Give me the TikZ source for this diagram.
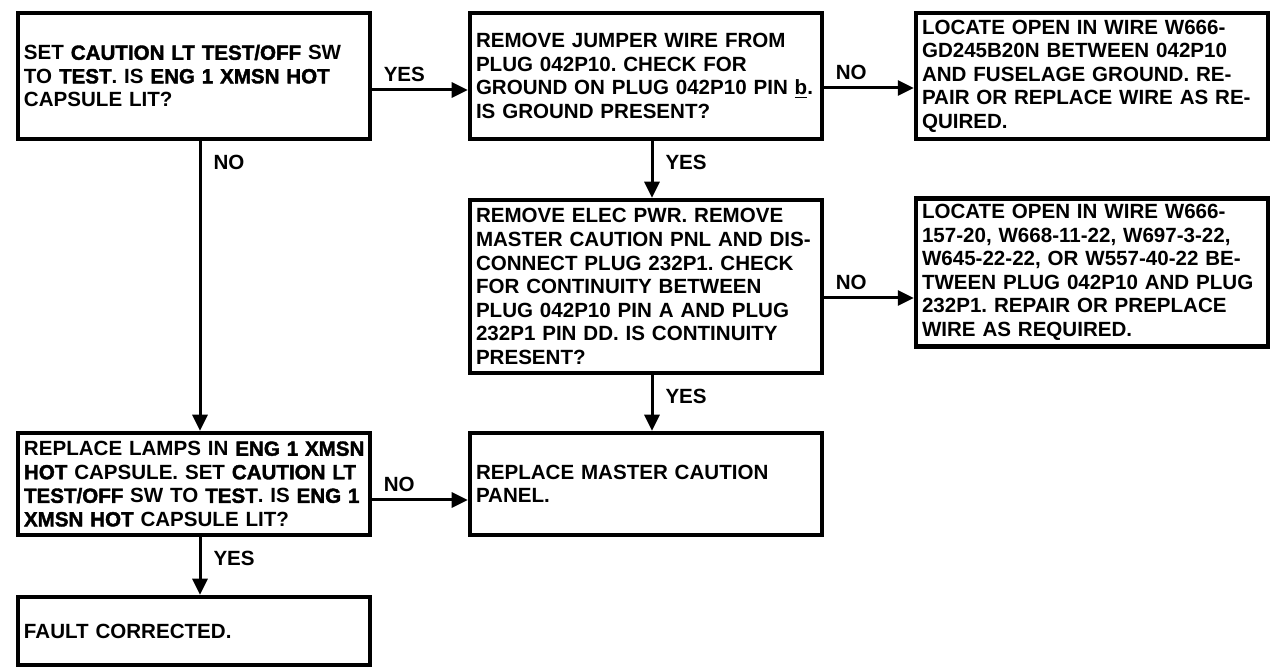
\documentclass[tikz,border=0pt]{standalone}
\usepackage{fontspec}
\setmainfont{Liberation Sans}
\newfontfamily\heavyfont{Liberation Sans}[BoldFeatures={FakeBold=1.8}]
\usetikzlibrary{arrows.meta}
\frenchspacing
\newcommand{\hvy}[1]{{\heavyfont #1}}
\tikzset{
	txt/.style={font=\bfseries\fontsize{11.7pt}{13.4pt}\selectfont},
	box/.style={txt, draw, line width=0.9mm, text width=68mm, inner xsep=1.2mm, align=left},
	arr/.style={line width=0.6mm, -{Triangle[length=3.2mm, width=3mm]}},
	hlab/.style={txt, anchor=south west, inner xsep=2mm, inner ysep=1.3mm},
	vlab/.style={txt, anchor=north west, inner sep=2.4mm},
}
\begin{document}
\begin{tikzpicture}[x=0.2mm, y=-0.2mm]
	\useasboundingbox (0,0) rectangle (1271,668);
	% top row
	\node[box, minimum height=25.2mm] (test) at (194,76)
	{SET \hvy{CAUTION LT TEST/OFF} SW\\TO \hvy{TEST}. IS \hvy{ENG 1 XMSN HOT}\\CAPSULE LIT?};
	\node[box, minimum height=25.2mm] (jumper) at (646,76)
	{REMOVE JUMPER WIRE FROM\\PLUG 042P10. CHECK FOR\\GROUND ON PLUG 042P10 PIN \underline{b}.\\IS GROUND PRESENT?};
	\node[box, minimum height=25.2mm] (gndwire) at (1092,76)
	{LOCATE OPEN IN WIRE W666-\\GD245B20N BETWEEN 042P10\\AND FUSELAGE GROUND. RE-\\PAIR OR REPLACE WIRE AS RE-\\QUIRED.};
	% middle row
	\node[box, minimum height=34.6mm] (contin) at (646,286.5)
	{REMOVE ELEC PWR. REMOVE\\MASTER CAUTION PNL AND DIS-\\CONNECT PLUG 232P1. CHECK\\FOR CONTINUITY BETWEEN\\PLUG 042P10 PIN A AND PLUG\\232P1 PIN DD. IS CONTINUITY\\PRESENT?};
	\node[box, minimum height=29mm] (openwire) at (1092,272.5)
	{LOCATE OPEN IN WIRE W666-\\157-20, W668-11-22, W697-3-22,\\W645-22-22, OR W557-40-22 BE-\\TWEEN PLUG 042P10 AND PLUG\\232P1. REPAIR OR PREPLACE\\WIRE AS REQUIRED.};
	% bottom rows
	\node[box, minimum height=20.4mm] (lamps) at (194,484)
	{\mbox{REPLACE LAMPS IN \hvy{ENG 1 XMSN}}\\\hvy{HOT} CAPSULE. SET \hvy{CAUTION LT}\\\hvy{TEST/OFF} SW TO \hvy{TEST}. IS \hvy{ENG 1}\\\hvy{XMSN HOT} CAPSULE LIT?};
	\node[box, minimum height=20.4mm] (panel) at (646,484)
	{REPLACE MASTER CAUTION\\PANEL.};
	\node[box, minimum height=13.6mm] (done) at (194,631)
	{FAULT CORRECTED.};

	% connectors
	\draw[arr] ([yshift=-2.8mm]test.east) node[hlab] {YES} -- ([yshift=-2.8mm]test.east -| jumper.west);
	\draw[arr] ([yshift=-2.4mm]jumper.east) node[hlab] {NO} -- ([yshift=-2.4mm]jumper.east -| gndwire.west);
	\draw[arr] ([yshift=-2.3mm]contin.east) node[hlab] {NO} -- ([yshift=-2.3mm]contin.east -| openwire.west);
	\draw[arr] ([yshift=-3.2mm]lamps.east) node[hlab] {NO} -- ([yshift=-3.2mm]lamps.east -| panel.west);
	\draw[arr] ([xshift=1.2mm]test.south) -- node[pos=0, vlab] {NO} ([xshift=1.2mm]test.south |- lamps.north);
	\draw[arr] ([xshift=1.2mm]jumper.south) -- node[pos=0, vlab] {YES} ([xshift=1.2mm]jumper.south |- contin.north);
	\draw[arr] ([xshift=1.2mm]contin.south) -- node[pos=0, vlab] {YES} ([xshift=1.2mm]contin.south |- panel.north);
	\draw[arr] ([xshift=1.2mm]lamps.south) -- node[pos=0, vlab] {YES} ([xshift=1.2mm]lamps.south |- done.north);
\end{tikzpicture}
\end{document}
